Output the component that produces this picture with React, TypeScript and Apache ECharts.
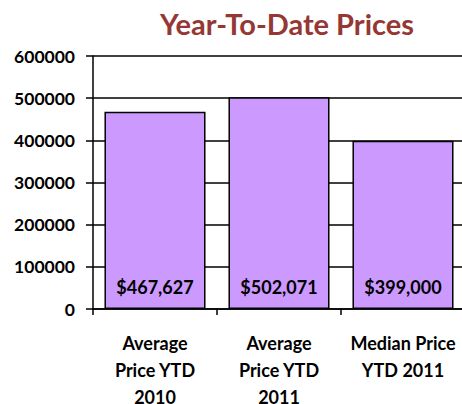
import React, { useEffect, useRef } from "react";
import * as echarts from "echarts";

const categories = ["Average\nPrice YTD\n2010", "Average\nPrice YTD\n2011", "Median Price\nYTD 2011"];
const values = [467627, 502071, 399000];
const yTicks = { min: 0, max: 600000, interval: 100000 };
const titleText = "Year-To-Date Prices";

const FONT = "Lato";

export default function App() {
  const ref = useRef<HTMLDivElement>(null);
  useEffect(() => {
    const chart = echarts.init(ref.current!, null, { renderer: "svg" });
    chart.setOption({
      animation: false,
      backgroundColor: "#ffffff",
      title: {
        text: titleText,
        left: 282,
        top: 4,
        textAlign: "center",
        textStyle: { color: "#953735", fontFamily: FONT, fontWeight: "bold", fontSize: 29 },
      },
      grid: { left: 93, top: 56, right: -3, bottom: 95, outerBoundsMode: "none", containLabel: false },
      xAxis: {
        type: "category",
        data: categories,
        axisLine: { show: true, lineStyle: { color: "#000", width: 1.5 } },
        axisTick: { show: true, length: 6, lineStyle: { color: "#000", width: 1.5 } },
        axisLabel: {
          color: "#000",
          fontFamily: FONT,
          fontWeight: "bold",
          fontSize: 18,
          lineHeight: 27,
          margin: 20,
          interval: 0,
        },
      },
      yAxis: {
        type: "value",
        min: yTicks.min,
        max: yTicks.max,
        interval: yTicks.interval,
        axisLine: { show: true, lineStyle: { color: "#000", width: 1.5 } },
        axisTick: { show: true, length: 7, lineStyle: { color: "#000", width: 1.5 } },
        splitLine: { show: true, lineStyle: { color: "#000", width: 1.5 } },
        axisLabel: {
          color: "#000",
          fontFamily: FONT,
          fontWeight: "bold",
          fontSize: 17.5,
          margin: 18,
          formatter: (v: number) => String(v),
        },
      },
      series: [
        {
          type: "bar",
          data: values,
          barCategoryGap: "18.5%",
          itemStyle: { color: "#CC99FF", borderColor: "#000", borderWidth: 1.5 },
          label: {
            show: true,
            position: "insideBottom",
            distance: 13,
            color: "#000",
            fontFamily: FONT,
            fontWeight: "bold",
            fontSize: 18,
            formatter: (p: any) => "$" + Number(p.value).toLocaleString("en-US"),
          },
        },
      ],
    });
    return () => chart.dispose();
  }, []);
  return (
    <div
      ref={ref}
      style={{ position: "fixed", left: 0, top: 0, width: 462, height: 404 }}
    />
  );
}
